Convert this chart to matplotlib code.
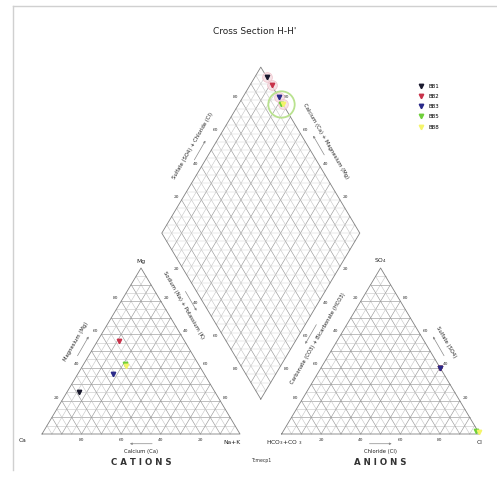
import numpy as np
import matplotlib
matplotlib.use("Agg")
import matplotlib.pyplot as plt

# ---------------- data ----------------
samples = ["BB1", "BB2", "BB3", "BB5", "BB8"]
colors = ["#1a1a2e", "#c8324a", "#2a2a8a", "#6fcf3a", "#f4f46a"]
ca = [69, 33, 46, 37, 37]      # % meq cations
mg = [25, 56, 36, 42, 41]
nak = [6, 11, 18, 21, 22]
hco3 = [0, 0, 0, 1, 0]         # % meq anions
so4 = [40, 40, 40, 2, 1]
cl = [60, 60, 60, 97, 99]
tick_vals = [20, 40, 60, 80]

# ---------------- geometry ----------------
G = 21.0
H = np.sqrt(3) / 2

def cat_xy(c, m, n):
    t = c + m + n
    m, n = m / t, n / t
    return 100 * n + 50 * m, 100 * H * m

def an_xy(h, s, c):
    t = h + s + c
    s, c = s / t, c / t
    return 100 + G + 100 * c + 50 * s, 100 * H * s

B = np.array([100 + G / 2, G * H])
E1 = np.array([-0.5, H])
E2 = np.array([0.5, H])

def dia_xy(n_frac, a_frac):
    p = B + 100 * (1 - n_frac) * E1 + 100 * a_frac * E2
    return p[0], p[1]

fig = plt.figure(figsize=(4.97, 4.84), dpi=100)
ax = fig.add_axes([0, 0, 1, 1])
ax.set_xlim((0 - 42) / 1.98, (497 - 42) / 1.98)
ax.set_ylim((434 - 484) / 1.917, 434 / 1.917)
ax.axis("off")

gc_major = "#9a9a9a"
gc_minor = "#c4c4c4"

def tri_grid(x0):
    A = np.array([x0, 0.0]); Bc = np.array([x0 + 100, 0.0]); C = np.array([x0 + 50, 100 * H])
    for k in range(5, 100, 5):
        f = k / 100
        col, lw = (gc_major, 0.45) if k % 10 == 0 else (gc_minor, 0.4)
        p1 = A + f * (C - A); p2 = Bc + f * (C - Bc)
        ax.plot([p1[0], p2[0]], [p1[1], p2[1]], color=col, lw=lw, zorder=1)
        p1 = A + f * (Bc - A); p2 = C + f * (Bc - C)
        ax.plot([p1[0], p2[0]], [p1[1], p2[1]], color=col, lw=lw, zorder=1)
        p1 = Bc + f * (A - Bc); p2 = C + f * (A - C)
        ax.plot([p1[0], p2[0]], [p1[1], p2[1]], color=col, lw=lw, zorder=1)
    ax.plot([A[0], Bc[0], C[0], A[0]], [A[1], Bc[1], C[1], A[1]], color="#808080", lw=0.6, zorder=2)

tri_grid(0)
tri_grid(100 + G)

L = B + 100 * E1; R = B + 100 * E2; T = B + 100 * E1 + 100 * E2
for k in range(5, 100, 5):
    f = k / 100
    col, lw = (gc_major, 0.45) if k % 10 == 0 else (gc_minor, 0.4)
    p1 = B + f * 100 * E1; p2 = p1 + 100 * E2
    ax.plot([p1[0], p2[0]], [p1[1], p2[1]], color=col, lw=lw, zorder=1)
    p1 = B + f * 100 * E2; p2 = p1 + 100 * E1
    ax.plot([p1[0], p2[0]], [p1[1], p2[1]], color=col, lw=lw, zorder=1)
for k in range(1, 40):
    y = B[1] + k * 5 * H
    hw = (y - B[1]) / H * 0.5 if y < L[1] else (T[1] - y) / H * 0.5
    ax.plot([B[0] - hw, B[0] + hw], [y, y], color="#d4d4d4", lw=0.35, zorder=1)
ax.plot([B[0], L[0], T[0], R[0], B[0]], [B[1], L[1], T[1], R[1], B[1]], color="#808080", lw=0.6, zorder=2)

# ---------------- tick labels ----------------
tfs = 3.2
tcol = "#333333"
def lab(x, y, s, nx, ny, d=4.5):
    ax.annotate(s, (x, y), xytext=(nx * d, ny * d), textcoords="offset points",
                ha="center", va="center", fontsize=tfs, color=tcol)

for v in tick_vals:
    f = v / 100
    x, y = cat_xy(v, 0, 100 - v); lab(x, y, str(v), 0, -1)
    x, y = cat_xy(100 - v, v, 0); lab(x, y, str(v), -H, 0.5)
    x, y = cat_xy(0, 100 - v, v); lab(x, y, str(v), H, 0.5)
    x, y = an_xy(100 - v, 0, v); lab(x, y, str(v), 0, -1)
    x, y = an_xy(0, v, 100 - v); lab(x, y, str(v), H, 0.5)
    x, y = an_xy(v, 100 - v, 0); lab(x, y, str(v), -H, 0.5)
    p = L + f * 100 * E2; lab(p[0], p[1], str(v), -H, 0.5)
    p = R + f * 100 * E1; lab(p[0], p[1], str(v), H, 0.5)
    p = B + (1 - f) * 100 * E1; lab(p[0], p[1], str(v), -H, -0.5)
    p = B + (1 - f) * 100 * E2; lab(p[0], p[1], str(v), H, -0.5)

cfs = 4.3
def corner(x, y, s, dx, dy):
    ax.annotate(s, (x, y), xytext=(dx, dy), textcoords="offset points",
                ha="center", va="center", fontsize=cfs, color="#222222")
corner(0, 0, "Ca", -14, -5)
corner(100, 0, "Na+K", -6, -6)
corner(50, 100 * H, "Mg", 0, 5)
corner(100 + G, 0, "HCO$_3$+CO $_3$", 2, -6)
corner(200 + G, 0, "Cl", 0, -6)
corner(150 + G, 100 * H, "SO$_4$", 0, 5)

afs = 3.8
def title_on(p, s, rot, nx, ny, d):
    ax.annotate(s, (p[0], p[1]), xytext=(nx * d, ny * d), textcoords="offset points",
                ha="center", va="center", fontsize=afs, color="#222222", rotation=rot,
                rotation_mode="anchor")

# short direction arrow drawn parallel to an edge, offset in points from it
def arrow_on(p, direction, nx, ny, d, length_pt=16):
    direction = np.asarray(direction, float)
    direction = direction / np.hypot(*direction)
    ax.annotate("", xy=(p[0], p[1]), xytext=(p[0], p[1]), xycoords="data",
                textcoords="data")
    off = np.array([nx, ny]) * d
    a = off - direction * length_pt / 2
    b = off + direction * length_pt / 2
    ax.annotate("", xy=(b[0], b[1]), xytext=(a[0], a[1]),
                xycoords=("offset points"), textcoords="offset points",
                arrowprops=dict(arrowstyle="-|>", color="#8a8a8a", lw=0.5,
                                mutation_scale=3, shrinkA=0, shrinkB=0)) if False else None
    tr = ax.transData
    px0 = tr.transform(p)
    pa = tr.inverted().transform(px0 + a / 0.72)
    pb = tr.inverted().transform(px0 + b / 0.72)
    ax.annotate("", xy=(pb[0], pb[1]), xytext=(pa[0], pa[1]), xycoords="data", textcoords="data",
                arrowprops=dict(arrowstyle="-|>", color="#8a8a8a", lw=0.5,
                                mutation_scale=3, shrinkA=0, shrinkB=0))

title_on(np.array(cat_xy(50, 50, 0)), "Magnesium (Mg)", 60, -H, 0.5, 13)
arrow_on(np.array(cat_xy(50, 50, 0)), (0.5, 0.866), -H, 0.5, 7)
title_on(np.array([50.0, 0.0]), "Calcium (Ca)", 0, 0, -1, 12.5)
arrow_on(np.array([50.0, 0.0]), (-1, 0), 0, -1, 7)
title_on(np.array([150 + G, 0.0]), "Chloride (Cl)", 0, 0, -1, 12.5)
arrow_on(np.array([150 + G, 0.0]), (1, 0), 0, -1, 7)
title_on(np.array(an_xy(0, 50, 50)), "Sulfate (SO4)", -60, H, 0.5, 13)
arrow_on(np.array(an_xy(0, 50, 50)), (-0.5, 0.866), H, 0.5, 7)
title_on(L + 0.47 * 100 * E2, "Sulfate (SO4) + Chloride (Cl)", 60, -H, 0.5, 13)
arrow_on(L + 0.47 * 100 * E2, (0.5, 0.866), -H, 0.5, 7)
title_on(R + 0.5 * 100 * E1, "Calcium (Ca) + Magnesium (Mg)", -60, H, 0.5, 13)
arrow_on(R + 0.5 * 100 * E1, (-0.5, 0.866), H, 0.5, 7)
title_on(B + 0.62 * 100 * E1, "Sodium (Na) + Potassium (K)", -60, -H, -0.5, 13)
arrow_on(B + 0.62 * 100 * E1, (0.5, -0.866), -H, -0.5, 7)
title_on(B + 0.42 * 100 * E2, "Carbonate (CO3) + Bicarbonate (HCO3)", 60, H, -0.5, 13)
arrow_on(B + 0.42 * 100 * E2, (-0.5, -0.866), H, -0.5, 7)

ax.annotate("C A T I O N S", (50, 0), xytext=(0, -20.5), textcoords="offset points",
            ha="center", va="center", fontsize=6.2, color="#333333", fontweight="bold")
ax.annotate("A N I O N S", (150 + G, 0), xytext=(0, -20.5), textcoords="offset points",
            ha="center", va="center", fontsize=6.2, color="#333333", fontweight="bold")
ax.annotate("Tcmecp1", (B[0], 0), xytext=(0, -19), textcoords="offset points",
            ha="center", va="center", fontsize=3.3, color="#333333")

# ---------------- samples ----------------
for i in range(len(samples)):
    x, y = cat_xy(ca[i], mg[i], nak[i])
    ax.plot(x, y, marker="v", ms=3.2, color=colors[i], mec=colors[i], ls="none", zorder=5)
    x, y = an_xy(hco3[i], so4[i], cl[i])
    ax.plot(x, y, marker="v", ms=3.2, color=colors[i], mec=colors[i], ls="none", zorder=5)
    n_frac = nak[i] / (ca[i] + mg[i] + nak[i])
    a_frac = (so4[i] + cl[i]) / (hco3[i] + so4[i] + cl[i])
    x, y = dia_xy(n_frac, a_frac)
    if i == 3:
        ax.plot(x, y, marker="o", ms=19, mfc="none", mec="#b9e28f", mew=1.3, ls="none", zorder=4)
    else:
        ax.plot(x, y, marker="o", ms=7, mfc="#f6dde2", mec="#eebcc6", mew=0.6, ls="none", zorder=4, alpha=0.8)
    ax.plot(x, y, marker="v", ms=3.2, color=colors[i], mec=colors[i], ls="none", zorder=5, label=samples[i])

ax.legend(loc="upper left", bbox_to_anchor=(0.838, 0.833), frameon=False, fontsize=4.0,
          handlelength=0.8, handletextpad=0.9, labelspacing=0.95, borderpad=0)

ax.text(0.513, 0.934, "Cross Section H-H'", transform=ax.transAxes, ha="center", va="center",
        fontsize=6.5, color="#222222")

fig.add_artist(plt.Line2D([13 / 497, 1], [1 - 6 / 484, 1 - 6 / 484], color="#d0d0d0", lw=1.0))
fig.add_artist(plt.Line2D([13 / 497, 13 / 497], [1 - 6 / 484, 1 - 470 / 484], color="#d0d0d0", lw=1.0))

fig.savefig("out.png", dpi=100, facecolor="white")
